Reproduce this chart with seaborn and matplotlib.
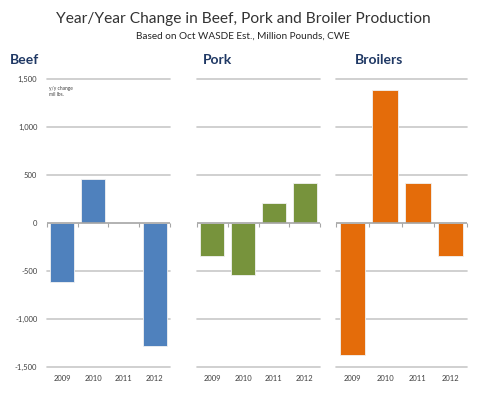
import matplotlib
matplotlib.use("Agg")
import matplotlib.pyplot as plt
import seaborn as sns
import pandas as pd

years = ["2009", "2010", "2011", "2012"]
beef = [-615, 460, 0, -1280]
pork = [-345, -545, 205, 420]
broilers = [-1375, 1385, 420, -340]
panel_names = ["Beef", "Pork", "Broilers"]
panel_values = [beef, pork, broilers]
panel_colors = ["#4F81BD", "#77933C", "#E46C0A"]
yticks = [-1500, -1000, -500, 0, 500, 1000, 1500]
ytick_labels = ["-1,500", "-1,000", "-500", "0", "500", "1,000", "1,500"]

sns.set_theme(style="white")
plt.rcParams["font.family"] = ["Lato", "DejaVu Sans"]

fig = plt.figure(figsize=(5.0, 3.99), dpi=100)
positions = [(0.094, 0.246), (0.394, 0.246), (0.672, 0.262)]
bottom, height = 0.080, 0.722

grid_c = "#C8C8C8"
for i, (name, vals, col, (left, w)) in enumerate(zip(panel_names, panel_values, panel_colors, positions)):
    ax = fig.add_axes([left, bottom, w, height])
    df = pd.DataFrame({"year": years, "value": vals})
    sns.barplot(data=df, x="year", y="value", color=col, saturation=1, width=0.78,
                edgecolor="#F2F2F2", linewidth=0.6, ax=ax, zorder=3)
    ax.set_ylim(-1500, 1500)
    ax.set_xlim(-0.5, 3.5)
    for y in yticks:
        if y != 0:
            ax.axhline(y, color=grid_c, lw=1.2, zorder=1, clip_on=False)
    ax.axhline(0, color="#A6A6A6", lw=1.2, zorder=4)
    ax.vlines([-0.5, 0.5, 1.5, 2.5, 3.5], 0, -45, color="#A6A6A6", lw=0.8, zorder=4, clip_on=False)
    for s in ax.spines.values():
        s.set_visible(False)
    ax.set_xlabel("")
    ax.set_ylabel("")
    ax.tick_params(axis="both", length=0, labelsize=5.5, colors="#404040", pad=6)
    ax.set_yticks(yticks)
    if i == 0:
        ax.set_yticklabels(ytick_labels)
        ax.tick_params(axis="y", pad=7)
        ax.text(0.02, 0.975, "y/y change\nmil lbs.", transform=ax.transAxes, fontsize=3.5,
                va="top", ha="left", color="#404040", linespacing=1.3)
    else:
        ax.set_yticklabels([])
    ax.grid(False)

fig.text(10 / 500, 1 - 60 / 399, "Beef", fontsize=10, fontweight="bold", color="#1F3864", va="center")
fig.text(203 / 500, 1 - 60 / 399, "Pork", fontsize=10, fontweight="bold", color="#1F3864", va="center")
fig.text(355 / 500, 1 - 60 / 399, "Broilers", fontsize=10, fontweight="bold", color="#1F3864", va="center")

fig.text(243 / 500, 1 - 19 / 399, "Year/Year Change in Beef, Pork and Broiler Production",
         fontsize=11.2, color="#333333", ha="center", va="center")
fig.text(243 / 500, 1 - 36 / 399, "Based on Oct WASDE Est., Million Pounds, CWE",
         fontsize=7.2, color="#262626", ha="center", va="center")

fig.savefig("out.png", dpi=100)
